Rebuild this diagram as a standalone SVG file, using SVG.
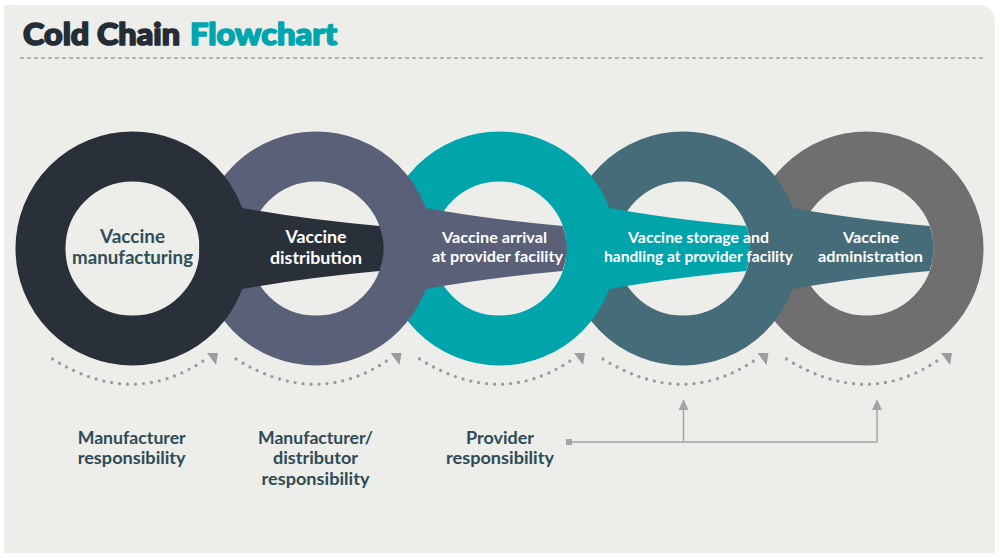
<svg xmlns="http://www.w3.org/2000/svg" width="1000" height="558" viewBox="0 0 1000 558">
  <style>
    .ring { fill: none; stroke-width: 50; }
    .lbl { font-family: Lato, "Noto Sans", "Liberation Sans", sans-serif; font-weight: 700; text-anchor: middle; }
    .w { fill: #ffffff; }
    .dk { fill: #2e4f5a; }
    .resp { fill: #2f4b56; font-size: 16.5px; }
    .arc { fill: none; stroke: #9b9ca1; stroke-width: 3.4; stroke-linecap: round; stroke-dasharray: 0 8; }
    .ah { fill: #9b9ca1; }
    .conn { fill: none; stroke: #a3a4a8; stroke-width: 1.5; }
    .title { font-family: Lato, "Noto Sans", "Liberation Sans", sans-serif; font-weight: 900; font-size: 30px; stroke-width: 1.6; stroke-linejoin: round; }
  </style>
  <rect width="1000" height="558" fill="#ffffff"/>
  <path d="M4,5 H979 A16,16 0 0 1 995,21 V553 H4 Z" fill="#ededea"/>

  <g id="title">
    <text class="title" x="23" y="45" fill="#252c35" stroke="#252c35" textLength="157" lengthAdjust="spacingAndGlyphs">Cold Chain</text>
    <text class="title" x="190" y="45" fill="#00a5ad" stroke="#00a5ad" textLength="147" lengthAdjust="spacingAndGlyphs">Flowchart</text>
    <line x1="20" y1="58" x2="985" y2="58" stroke="#777b80" stroke-width="1.2" stroke-dasharray="4 3"/>
  </g>

  <!-- rings drawn back to front -->
  <g id="node-administration">
    <circle class="ring" cx="866.5" cy="248.5" r="92" stroke="#6f6f70"/>
  </g>
  <g id="node-storage">
    <circle class="ring" cx="683" cy="248.5" r="92" stroke="#466c79"/>
    <path d="M768,206 L793,208 Q853,219 929.6,226 A67,67 0 0 1 929.6,271 Q853,278 793,289 L768,291 Z" fill="#466c79"/>
  </g>
  <g id="node-arrival">
    <circle class="ring" cx="499.5" cy="248.5" r="92" stroke="#00a4ab"/>
    <path d="M584.5,206 L609.5,208 Q669.5,219 746.1,226 A67,67 0 0 1 746.1,271 Q669.5,278 609.5,289 L584.5,291 Z" fill="#00a4ab"/>
  </g>
  <g id="node-distribution">
    <circle class="ring" cx="316" cy="248.5" r="92" stroke="#5b6079"/>
    <path d="M401,206 L426,208 Q486,219 562.6,226 A67,67 0 0 1 562.6,271 Q486,278 426,289 L401,291 Z" fill="#5b6079"/>
  </g>
  <g id="node-manufacturing">
    <circle class="ring" cx="132.5" cy="248.5" r="92" stroke="#2a3039"/>
    <path d="M217.5,206 L242.5,208 Q302.5,219 379.6,226 A67,67 0 0 1 379.6,271 Q302.5,278 242.5,289 L217.5,291 Z" fill="#2a3039"/>
  </g>

  <g id="stage-labels">
    <g id="label-manufacturing">
      <text class="lbl dk" x="132.5" y="243" font-size="18" textLength="65" lengthAdjust="spacingAndGlyphs">Vaccine</text>
      <text class="lbl dk" x="132.5" y="264" font-size="18" textLength="121" lengthAdjust="spacingAndGlyphs">manufacturing</text>
    </g>
    <g id="label-distribution">
      <text class="lbl w" x="316" y="243" font-size="16.5" textLength="61" lengthAdjust="spacingAndGlyphs">Vaccine</text>
      <text class="lbl w" x="316" y="264" font-size="16.5" textLength="92" lengthAdjust="spacingAndGlyphs">distribution</text>
    </g>
    <g id="label-arrival">
      <text class="lbl w" x="494.5" y="243" font-size="15.5" textLength="105" lengthAdjust="spacingAndGlyphs">Vaccine arrival</text>
      <text class="lbl w" x="497.5" y="262" font-size="15.5" textLength="131" lengthAdjust="spacingAndGlyphs">at provider facility</text>
    </g>
    <g id="label-storage">
      <text class="lbl w" x="698.5" y="243" font-size="15.5" textLength="141" lengthAdjust="spacingAndGlyphs">Vaccine storage and</text>
      <text class="lbl w" x="698.5" y="262" font-size="15.5" textLength="189" lengthAdjust="spacingAndGlyphs">handling at provider facility</text>
    </g>
    <g id="label-administration">
      <text class="lbl w" x="871" y="243" font-size="15.5" textLength="56" lengthAdjust="spacingAndGlyphs">Vaccine</text>
      <text class="lbl w" x="870.5" y="262" font-size="15.5" textLength="105" lengthAdjust="spacingAndGlyphs">administration</text>
    </g>
  </g>

  <g id="connectors">
    <path class="arc" d="M52.5,359 Q132.5,409 204.5,360"/>
    <polygon class="ah" points="207,353 218,353 216,365"/>
    <path class="arc" d="M236,359 Q316,409 388,360"/>
    <polygon class="ah" points="390.5,353 401.5,353 399.5,365"/>
    <path class="arc" d="M419.5,359 Q499.5,409 571.5,360"/>
    <polygon class="ah" points="574,353 585,353 583,365"/>
    <path class="arc" d="M603,359 Q683,409 755,360"/>
    <polygon class="ah" points="757.5,353 768.5,353 766.5,365"/>
    <path class="arc" d="M786.5,359 Q866.5,409 938.5,360"/>
    <polygon class="ah" points="941,353 952,353 950,365"/>

    <rect x="566" y="439" width="6" height="6" fill="#a3a4a8"/>
    <path class="conn" d="M572,442 H877 V409 M683.5,442 V409"/>
    <polygon points="678.5,410 688.5,410 683.5,399" fill="#a3a4a8"/>
    <polygon points="872,410 882,410 877,399" fill="#a3a4a8"/>
  </g>

  <g id="responsibility-labels">
    <g id="resp-manufacturer">
      <text class="lbl resp" x="131.7" y="444" textLength="108" lengthAdjust="spacingAndGlyphs">Manufacturer</text>
      <text class="lbl resp" x="131.7" y="464" textLength="108" lengthAdjust="spacingAndGlyphs">responsibility</text>
    </g>
    <g id="resp-distributor">
      <text class="lbl resp" x="315.5" y="444" textLength="115" lengthAdjust="spacingAndGlyphs">Manufacturer/</text>
      <text class="lbl resp" x="315.5" y="464" textLength="85" lengthAdjust="spacingAndGlyphs">distributor</text>
      <text class="lbl resp" x="315.5" y="485" textLength="108" lengthAdjust="spacingAndGlyphs">responsibility</text>
    </g>
    <g id="resp-provider">
      <text class="lbl resp" x="500" y="444" textLength="68" lengthAdjust="spacingAndGlyphs">Provider</text>
      <text class="lbl resp" x="500" y="464" textLength="108" lengthAdjust="spacingAndGlyphs">responsibility</text>
    </g>
  </g>
</svg>
